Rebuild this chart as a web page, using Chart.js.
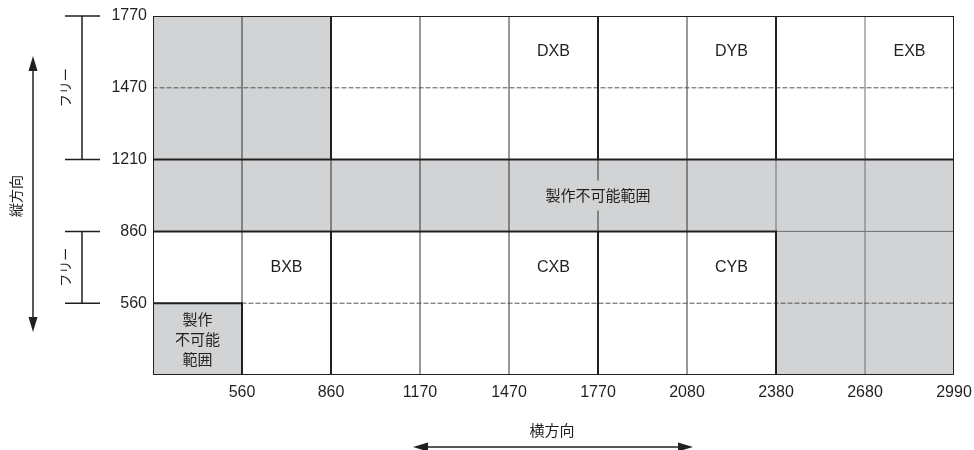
<!DOCTYPE html>
<html lang="ja">
<head>
<meta charset="utf-8">
<style>
  html, body { margin: 0; padding: 0; background: #fff; }
  #wrap { width: 974px; height: 450px; }
</style>
</head>
<body>
<div id="wrap"><canvas id="sizeChart" width="974" height="450"></canvas></div>
<script src="https://cdn.jsdelivr.net/npm/chart.js@4/dist/chart.umd.min.js"></script>
<script>
// grid is laid out in column / row index units (edges 0..9 and 0..5)
const columns = ['-560', '560-860', '860-1170', '1170-1470', '1470-1770', '1770-2080', '2080-2380', '2380-2680', '2680-2990'];
const xTickLabels = ['', '560', '860', '1170', '1470', '1770', '2080', '2380', '2680', '2990'];
const yTickLabels = ['', '560', '860', '1210', '1470', '1770'];

// not-producible (grey) ranges per column, as [rowFrom, rowTo]
const greyMain = [[2, 5], [2, 5], [2, 3], [2, 3], [2, 3], [2, 3], [2, 3], [0, 3], [0, 3]];
const greySmall = [[0, 1], null, null, null, null, null, null, null, null];

// cell outlines [x1, y1, x2, y2]
const thickLines = [
  [0, 0, 9, 0], [0, 5, 9, 5], [0, 0, 0, 5], [9, 0, 9, 5],
  [0, 3, 9, 3], [0, 2, 7, 2],
  [2, 0, 2, 2], [2, 3, 2, 5], [5, 0, 5, 2], [5, 3, 5, 5], [7, 0, 7, 2], [7, 3, 7, 5],
  [1, 0, 1, 1], [0, 1, 1, 1]
];
const thinLines = [[1, 1, 1, 5], [3, 0, 3, 5], [4, 0, 4, 5], [6, 0, 6, 5], [2, 2, 2, 3], [5, 2, 5, 3]];
const softLines = [[7, 2, 9, 2], [7, 2, 7, 3], [8, 0, 8, 5]];
const dashedLines = [[0, 4, 9, 4], [1, 1, 9, 1]];

// size names: column index, row index of the cell
const sizeNames = ['DXB', 'DYB', 'EXB', 'BXB', 'CXB', 'CYB'];
const sizeCols = [4, 6, 8, 1, 4, 6];
const sizeRows = [4, 4, 4, 1, 1, 1];

const freeRanges = [[3, 5], [1, 2]];

const GREY = '#d1d3d4';
const INK = '#231f20';
const latin = '"Liberation Sans", Arial, sans-serif';
const jp = '"Noto Sans CJK JP", sans-serif';

function toSegments(lines) {
  const pts = [];
  lines.forEach(([x1, y1, x2, y2]) => {
    pts.push({ x: x1, y: y1 }, { x: x2, y: y2 }, { x: x2, y: null });
  });
  return pts;
}

function lineSet(lines, width, color, dash, order) {
  return {
    type: 'line',
    xAxisID: 'x2',
    yAxisID: 'y',
    data: toSegments(lines),
    borderColor: color,
    borderWidth: width,
    borderDash: dash,
    borderCapStyle: 'square',
    pointRadius: 0,
    fill: false,
    tension: 0,
    spanGaps: false,
    order: order
  };
}

function arrowHead(ctx, x, y, dx, dy) {
  const len = 15, half = 4.5;
  const px = -dy, py = dx;
  ctx.beginPath();
  ctx.moveTo(x, y);
  ctx.lineTo(x - dx * len + px * half, y - dy * len + py * half);
  ctx.lineTo(x - dx * len - px * half, y - dy * len - py * half);
  ctx.closePath();
  ctx.fill();
}

function vText(ctx, text, x, y) {
  ctx.save();
  ctx.translate(x, y);
  ctx.rotate(-Math.PI / 2);
  ctx.fillText(text, 0, 0);
  ctx.restore();
}

const labelsPlugin = {
  id: 'cellLabels',
  afterDatasetsDraw(chart) {
    const { ctx, scales: { x2, y } } = chart;
    ctx.save();
    ctx.fillStyle = INK;
    ctx.textAlign = 'center';
    ctx.textBaseline = 'middle';
    ctx.font = '16px ' + latin;
    sizeNames.forEach((name, i) => {
      ctx.fillText(name, x2.getPixelForValue(sizeCols[i] + 0.5), y.getPixelForValue(sizeRows[i] + 0.5));
    });

    // band label with grey backing
    ctx.font = '15px ' + jp;
    const bx = x2.getPixelForValue(5), by = y.getPixelForValue(2.5);
    const w = ctx.measureText('製作不可能範囲').width;
    ctx.fillStyle = GREY;
    ctx.fillRect(bx - w / 2 - 5, by - 15, w + 10, 30);
    ctx.fillStyle = INK;
    ctx.fillText('製作不可能範囲', bx, by);

    // small corner cell
    const sx = x2.getPixelForValue(0.5), sy = y.getPixelForValue(0.5);
    ['製作', '不可能', '範囲'].forEach((t, i) => ctx.fillText(t, sx, sy + (i - 1) * 20));
    ctx.restore();
  },
  afterDraw(chart) {
    const { ctx, scales: { y } } = chart;
    ctx.save();
    ctx.strokeStyle = INK;
    ctx.fillStyle = INK;
    ctx.lineWidth = 1.5;
    ctx.textAlign = 'center';
    ctx.textBaseline = 'middle';
    ctx.font = '13px ' + jp;

    freeRanges.forEach(([lo, hi]) => {
      const top = y.getPixelForValue(hi), bot = y.getPixelForValue(lo);
      ctx.beginPath();
      ctx.moveTo(65, top); ctx.lineTo(100, top);
      ctx.moveTo(65, bot); ctx.lineTo(100, bot);
      ctx.moveTo(82, top); ctx.lineTo(82, bot);
      ctx.stroke();
      vText(ctx, 'フリー', 65, (top + bot) / 2);
    });

    // vertical direction
    ctx.beginPath();
    ctx.moveTo(33, 68); ctx.lineTo(33, 320);
    ctx.stroke();
    arrowHead(ctx, 33, 56, 0, -1);
    arrowHead(ctx, 33, 332, 0, 1);
    ctx.font = '14px ' + jp;
    vText(ctx, '縦方向', 16, 196);

    // horizontal direction
    ctx.font = '15px ' + jp;
    ctx.fillText('横方向', 552, 430);
    ctx.beginPath();
    ctx.moveTo(425, 447); ctx.lineTo(682, 447);
    ctx.stroke();
    arrowHead(ctx, 413, 447, -1, 0);
    arrowHead(ctx, 693, 447, 1, 0);
    ctx.restore();
  }
};

const ctx = document.getElementById('sizeChart').getContext('2d');

const chart = new Chart(ctx, {
  type: 'bar',
  data: {
    labels: columns,
    datasets: [
      {
        data: greyMain,
        backgroundColor: GREY,
        borderWidth: 0,
        barPercentage: 1,
        categoryPercentage: 1,
        grouped: false,
        xAxisID: 'x',
        yAxisID: 'y',
        order: 10
      },
      {
        data: greySmall,
        backgroundColor: GREY,
        borderWidth: 0,
        barPercentage: 1,
        categoryPercentage: 1,
        grouped: false,
        xAxisID: 'x',
        yAxisID: 'y',
        order: 10
      },
      lineSet(softLines, 1, '#6d6e70', [], 6),
      lineSet(thinLines, 1, '#333333', [], 5),
      lineSet(dashedLines, 1, '#555555', [4, 3], 4),
      lineSet(thickLines, 2, INK, [], 1)
    ]
  },
  options: {
    responsive: false,
    animation: false,
    devicePixelRatio: 1,
    layout: { padding: { left: 0, right: 20, top: 16, bottom: 0 } },
    plugins: { legend: { display: false }, tooltip: { enabled: false } },
    scales: {
      x: { type: 'category', display: false, offset: true },
      x2: {
        type: 'linear',
        position: 'bottom',
        min: 0,
        max: 9,
        offset: false,
        grid: { display: false, drawTicks: false },
        border: { display: false },
        ticks: {
          stepSize: 1,
          autoSkip: false,
          maxRotation: 0,
          padding: 8,
          color: INK,
          font: { family: latin, size: 16 },
          callback: v => xTickLabels[v] ?? ''
        },
        afterFit: s => {
          s.height = 75;
          s.paddingLeft = 0;
          s.paddingRight = 0;
        }
      },
      y: {
        type: 'linear',
        min: 0,
        max: 5,
        grid: { display: false, drawTicks: false },
        border: { display: false },
        ticks: {
          stepSize: 1,
          padding: 6,
          color: INK,
          font: { family: latin, size: 16 },
          callback: v => yTickLabels[v] ?? ''
        },
        afterFit: s => {
          s.width = 153;
          s.paddingTop = 0;
          s.paddingBottom = 0;
        }
      }
    }
  },
  plugins: [labelsPlugin]
});
</script>
</body>
</html>
